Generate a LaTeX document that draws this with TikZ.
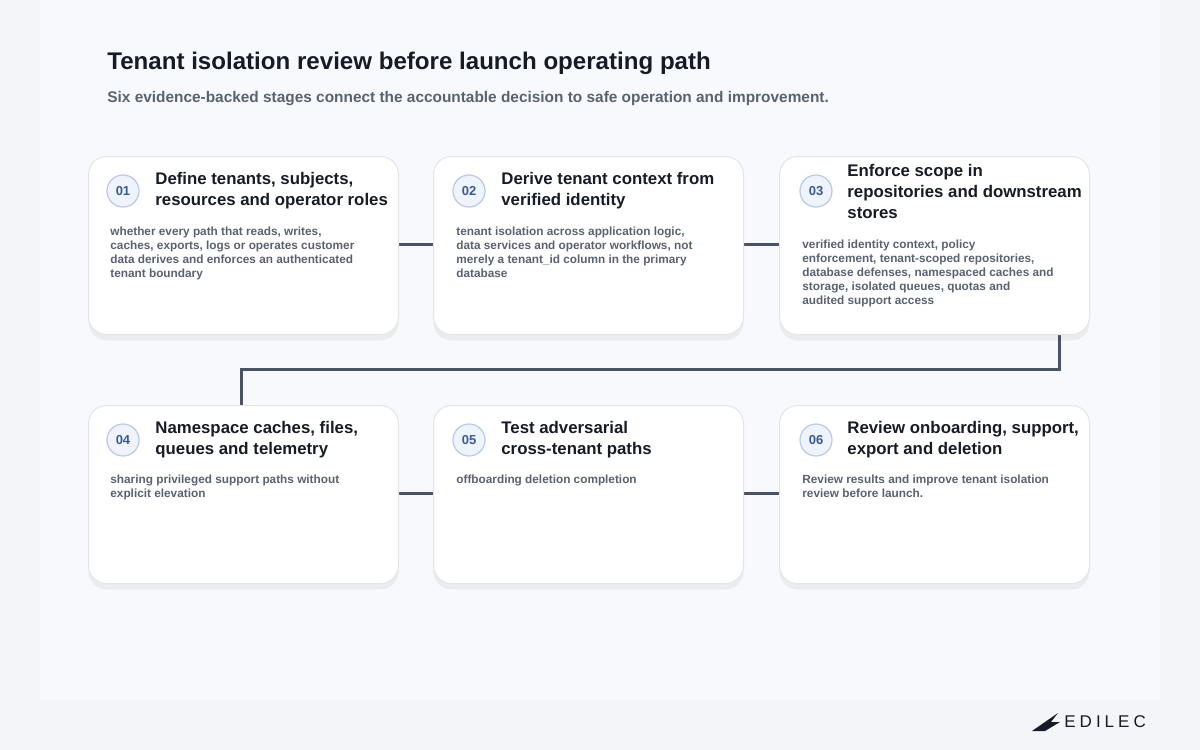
\documentclass[tikz,border=0pt]{standalone}
\usepackage{fontspec}
\setmainfont{Liberation Sans}
\usetikzlibrary{positioning}
\definecolor{pagebg}{HTML}{F3F5F9}
\definecolor{panelbg}{HTML}{F7F9FC}
\definecolor{inkdark}{HTML}{161B26}
\definecolor{inkgray}{HTML}{5A6270}
\definecolor{wire}{HTML}{4A5365}
\definecolor{badgefill}{HTML}{EEF3FC}
\definecolor{badgeline}{HTML}{B9C9E6}
\definecolor{badgeink}{HTML}{3B5A93}
\tikzset{
  card/.style={draw=black!10, fill=white, rounded corners=9pt, line width=0.5pt,
    minimum width=155pt, minimum height=89pt, anchor=north west, inner sep=0pt,
    preaction={fill=black, fill opacity=0.05, transform canvas={yshift=-3pt}}},
  badge/.style={circle, draw=badgeline, fill=badgefill, line width=0.6pt, minimum size=16pt,
    inner sep=0pt, font=\fontsize{6.5}{7}\selectfont\bfseries, text=badgeink},
  stagetitle/.style={anchor=north west, align=left, inner sep=0pt, text=inkdark,
    font=\fontsize{8.4}{10.5}\selectfont\bfseries},
  stagebody/.style={anchor=north west, align=left, inner sep=0pt, text=inkgray,
    font=\fontsize{5.9}{7}\selectfont\bfseries},
  link/.style={draw=wire, line width=1.5pt},
}
\begin{document}
\begin{tikzpicture}[x=0.5pt,y=-0.5pt]
\useasboundingbox (0,0) rectangle (1200,750);
\fill[pagebg] (0,0) rectangle (1200,750);
\fill[panelbg] (40,0) rectangle (1160,700);

% Heading
\node[anchor=north west, inner sep=0pt, text=inkdark, font=\fontsize{12.05}{14}\selectfont\bfseries]
  (title) at (107,52) {Tenant isolation review before launch operating path};
\node[anchor=north west, inner sep=0pt, text=inkgray, font=\fontsize{7.7}{9}\selectfont\bfseries]
  (subtitle) at (107,91) {Six evidence-backed stages connect the accountable decision to safe operation and improvement.};

% Connectors
\coordinate (bendA) at (1059,369);
\coordinate (bendB) at (241,369);
\coordinate (downA) at (1059,333);
\coordinate (downB) at (241,405);
\draw[link] (397,244) -- (433,244);
\draw[link] (743,244) -- (779,244);
\draw[link] (downA) -- (bendA) -- (bendB) -- (downB);
\draw[link] (397,493) -- (433,493);
\draw[link] (743,493) -- (779,493);

% Cards
\node[card] (s1) at (88,156) {};
\node[card] (s2) at (433,156) {};
\node[card] (s3) at (779,156) {};
\node[card] (s4) at (88,405) {};
\node[card] (s5) at (433,405) {};
\node[card] (s6) at (779,405) {};

% Stage 01
\node[badge] (b1) at (123,191) {01};
\node[stagetitle] (t1) at (155,172) {Define tenants, subjects,\\resources and operator roles};
\node[stagebody] (d1) at (110,227) {whether every path that reads, writes,\\caches, exports, logs or operates customer\\data derives and enforces an authenticated\\tenant boundary};

% Stage 02
\node[badge] (b2) at (469,191) {02};
\node[stagetitle] (t2) at (501,172) {Derive tenant context from\\verified identity};
\node[stagebody] (d2) at (456,227) {tenant isolation across application logic,\\data services and operator workflows, not\\merely a tenant\_id column in the primary\\database};

% Stage 03
\node[badge] (b3) at (816,191) {03};
\node[stagetitle] (t3) at (847,164) {Enforce scope in\\repositories and downstream\\stores};
\node[stagebody] (d3) at (802,240) {verified identity context, policy\\enforcement, tenant-scoped repositories,\\database defenses, namespaced caches and\\storage, isolated queues, quotas and\\audited support access};

% Stage 04
\node[badge] (b4) at (123,440) {04};
\node[stagetitle] (t4) at (155,421) {Namespace caches, files,\\queues and telemetry};
\node[stagebody] (d4) at (110,475) {sharing privileged support paths without\\explicit elevation};

% Stage 05
\node[badge] (b5) at (469,440) {05};
\node[stagetitle] (t5) at (501,421) {Test adversarial\\cross-tenant paths};
\node[stagebody] (d5) at (456,475) {offboarding deletion completion};

% Stage 06
\node[badge] (b6) at (816,440) {06};
\node[stagetitle] (t6) at (847,421) {Review onboarding, support,\\export and deletion};
\node[stagebody] (d6) at (802,475) {Review results and improve tenant isolation\\review before launch.};

% Logo
\fill[inkdark] (1032,731) -- (1058,713) -- (1051,722) -- (1060,722) -- (1045,731) -- cycle;
\node[anchor=west, inner sep=0pt, text=inkdark, font=\fontsize{8.5}{9}\selectfont]
  (logo) at (1064,722) {E\kern2ptD\kern2ptI\kern2ptL\kern2ptE\kern2ptC};
\end{tikzpicture}
\end{document}
